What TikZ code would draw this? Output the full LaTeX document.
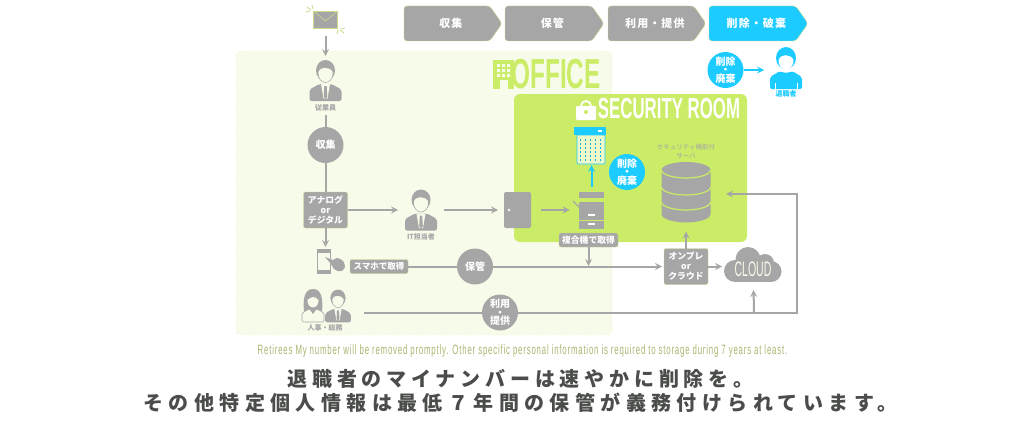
\documentclass[tikz,border=0pt]{standalone}
\usepackage{fontspec}
\setmainfont{Noto Sans CJK JP}
\newfontfamily\condfont[FakeStretch=0.58]{Liberation Sans}
\newfontfamily\notefont[FakeStretch=0.58, LetterSpace=6]{Liberation Sans}
\newfontfamily\cloudfont[FakeStretch=0.5]{Liberation Sans}
\newfontfamily\jpphase[LetterSpace=10]{Noto Sans CJK JP}
\newfontfamily\jpone[LetterSpace=24]{Noto Sans CJK JP}
\newfontfamily\jptwo[LetterSpace=27]{Noto Sans CJK JP}
\newcommand{\tightlines}{\lineskiplimit=-20pt\relax}
\usetikzlibrary{shapes.symbols}
\definecolor{grayicon}{HTML}{A6A6A6}
\definecolor{blueicon}{HTML}{1CCBFF}
\definecolor{roomgreen}{HTML}{CBEC67}
\definecolor{officebg}{HTML}{F7FBE9}
\definecolor{edgegreen}{HTML}{C6DC8C}
\definecolor{inkdark}{HTML}{4A4D4A}
\definecolor{noteolive}{HTML}{A9B56F}
\begin{document}
\begin{tikzpicture}[
    x=1pt, y=-1pt,
    phasebox/.style={signal, signal to=east, signal pointer angle=110, rounded corners=3pt, draw=edgegreen, fill=grayicon, minimum width=98pt, minimum height=35pt, inner sep=0pt, outer sep=0pt, anchor=west, text=white, font=\jpphase\fontsize{11}{13}\selectfont\bfseries, execute at begin node=\hspace*{8pt}},
    roundmark/.style={circle, fill=grayicon, minimum size=36pt, inner sep=0pt, outer sep=0pt, align=center, text=white, font=\fontsize{10}{8.4}\selectfont\bfseries\tightlines},
    tagbox/.style={rectangle, draw=edgegreen, fill=grayicon, rounded corners=2pt, inner sep=0pt, outer sep=0pt, align=center, text=white, font=\fontsize{8.8}{10}\selectfont\bfseries},
    iconbox/.style={rectangle, inner sep=0pt, outer sep=0pt},
    caption/.style={inner sep=0pt, text=grayicon, font=\fontsize{7}{8}\selectfont\bfseries},
    arrow/.style={->, line width=2pt, draw=grayicon, >=stealth},
    plainline/.style={line width=2pt, draw=grayicon},
    pics/manicon/.style 2 args={code={
        \fill[#1] (0,-10) ellipse (9.5 and 10.5);
        \fill[#2] (0,-7.5) ellipse (7.5 and 9.5);
        \fill[#1] (-8,-8) .. controls (-6,-14) and (4,-15) .. (8,-8) .. controls (9,-16) and (4,-20) .. (0,-20) .. controls (-5,-20) and (-9,-15) .. (-8,-8);
        \draw[#1, line width=.5pt] (0,-7.5) ellipse (7.5 and 9.5);
        \fill[#1, rounded corners=2pt] (-16,20.5) -- (-16,9) -- (-6,3.5) -- (6,3.5) -- (16,9) -- (16,20.5) -- cycle;
        \fill[#2] (-4.5,3.5) -- (4.5,3.5) -- (2,18) -- (-2,18) -- cycle;
        \fill[#1] (-1.2,5.5) -- (1.2,5.5) -- (1.8,16) -- (0,19) -- (-1.8,16) -- cycle;
    }},
    pics/womanicon/.style={code={
        \fill[grayicon] (-9,5) .. controls (-10,-6) and (-9,-17) .. (0,-17) .. controls (9,-17) and (10,-6) .. (9,5) -- cycle;
        \filldraw[draw=grayicon, fill=officebg, line width=.6pt, rounded corners=1.5pt] (-11,16) -- (-11,7) -- (-4,3) -- (4,3) -- (11,7) -- (11,16) -- cycle;
        \fill[officebg] (0,-5.5) ellipse (5.5 and 7);
        \fill[grayicon] (-5.5,-6) .. controls (-3,-9) and (2,-11) .. (5.5,-6) -- (5,-13) -- (-5,-13) -- cycle;
        \fill[grayicon] (-3.5,3) -- (0,8) -- (3.5,3) -- cycle;
    }},
    pics/retireeicon/.style={code={
        \fill[blueicon] (0,-10) ellipse (10 and 11);
        \fill[white] (0,-7.5) ellipse (7.5 and 9);
        \fill[blueicon] (-8,-8) .. controls (-6,-14) and (4,-15) .. (8,-8) .. controls (9,-16) and (4,-20) .. (0,-20) .. controls (-5,-20) and (-9,-15) .. (-8,-8);
        \fill[blueicon, rounded corners=2pt] (-16,21) -- (-16,9) -- (-6,3) -- (0,5.5) -- (6,3) -- (16,9) -- (16,21) -- cycle;
        \draw[white, line width=.7pt] (-11,15) -- (-11,21) (11,15) -- (11,21);
    }},
    pics/dbicon/.style={code={
        \fill[grayicon] (-24.5,-22) -- (-24.5,22) arc[start angle=180, end angle=0, x radius=24.5, y radius=8.5] -- (24.5,-22) arc[start angle=0, end angle=-180, x radius=24.5, y radius=8] -- cycle;
        \foreach \yy in {-22,-5,10}
            \draw[roomgreen, line width=1.2pt] (-24.5,\yy) arc[start angle=180, end angle=0, x radius=24.5, y radius=8];
    }}
]
\useasboundingbox (0,0) rectangle (1024,420);

% Rooms
\filldraw[draw=officebg!70!roomgreen, fill=officebg, rounded corners=5pt, dashed, line width=.4pt] (236,51) rectangle (612,335);
\fill[roomgreen, rounded corners=6pt] (514,94) rectangle (747,242);
\node[inner sep=0pt, text=roomgreen, font=\condfont\fontsize{42}{42}\selectfont\bfseries] (officetitle) at (556,74) {OFFICE};
\node[inner sep=0pt, text=white, font=\condfont\fontsize{29}{29}\selectfont\bfseries] (roomtitle) at (669,109) {SECURITY ROOM};
\fill[roomgreen] (493,60) rectangle (514,89);
\fill[officebg] foreach \xx in {497,502,507} { foreach \yy in {64,69,74} { (\xx,\yy) rectangle ++(3,3) } };
\fill[officebg] (499.5,80) rectangle (507.5,89);
\draw[white, line width=1.8pt] (581,106) arc[start angle=180, end angle=360, radius=5];
\fill[white, rounded corners=1pt] (576,106) rectangle (596,120);
\fill[roomgreen] (586,112) circle (2);

% Phases
\node[phasebox] (collectphase) at (404,23.5) {収集};
\node[phasebox, minimum width=99pt] (storephase) at (505,23.5) {保管};
\node[phasebox] (usephase) at (608,23.5) {利用・提供};
\node[phasebox, fill=blueicon, minimum width=99pt] (erasephase) at (709,23.5) {削除・破棄};

% Mail
\node[iconbox, draw=edgegreen, fill=grayicon, minimum width=24pt, minimum height=17pt] (mail) at (325.5,19.5) {};
\draw[edgegreen, line width=.6pt] (mail.north west) -- (325.5,21) -- (mail.north east);
\draw[edgegreen, line width=.8pt] (311,10) -- (307,7) (312,5) -- (313,9) (306,12) -- (310,11);
\draw[edgegreen, line width=.8pt] (340,30) -- (344,33) (337,34) -- (338,30) (345,28) -- (341,29);

% Staff column
\node[iconbox, minimum width=32pt, minimum height=41pt] (staff) at (325.5,80.5) {};
\pic at (staff) {manicon={grayicon}{officebg}};
\node[caption] (stafflabel) at (325.5,108) {従業員};
\node[roundmark] (collect) at (325.5,145) {収集};
\node[tagbox, minimum width=44pt, minimum height=36pt] (analog) at (325.5,210) {アナログ\\or\\デジタル};
\node[iconbox, minimum width=46pt, minimum height=42pt] (itstaff) at (421,210) {};
\pic at (itstaff) {manicon={grayicon}{officebg}};
\node[caption] (itlabel) at (421,237) {IT担当者};

% Door and copier
\node[iconbox, fill=grayicon, rounded corners=2pt, minimum width=27pt, minimum height=36pt] (door) at (517.5,210) {};
\fill[white] (509,210) circle (1.3);
\node[iconbox, minimum width=26pt, minimum height=38pt] (copier) at (591.5,210) {};
\fill[grayicon] (579,192) rectangle (604,198);
\fill[grayicon] (579,202) rectangle (604,220);
\fill[grayicon] (579,221) rectangle (604,229);
\draw[grayicon, line width=1.2pt] (573,201) -- (579,207);
\fill[white] (588,214) rectangle (595,216);
\fill[white] (588,223) rectangle (595,225);
\node[tagbox, minimum width=59pt, minimum height=14pt] (copierlabel) at (588.5,240) {複合機で取得};

% Shredder
\node[iconbox, minimum width=32pt, minimum height=38pt] (shredder) at (591.5,146) {};
\filldraw[draw=blueicon, fill=roomgreen!35!white, line width=.6pt, rounded corners=1pt] (577,135) rectangle (605,164);
\fill[blueicon] (574,127) rectangle (606,135);
\fill[white] (598,130) rectangle (602,132);
\foreach \xx in {580,585,590,595,600} {
    \foreach \yy in {139,143,147,151,155,159} {
        \fill[blueicon!85!black] (\xx,\yy) rectangle ++(1.2,2);
    }
}
\node[roundmark, fill=blueicon] (erasein) at (627,172) {削除\\・\\廃棄};

% Server
\node[iconbox, minimum width=49pt, minimum height=61pt] (server) at (686,192) {};
\pic at (server) {dbicon};
\node[inner sep=0pt, align=center, text=grayicon, font=\fontsize{6.5}{9}\selectfont] (serverlabel) at (686,151.5) {セキュリティ機能付\\サーバ};

% Phone and office circles
\node[iconbox, minimum width=14pt, minimum height=25pt] (phone) at (325.5,261.5) {};
\draw[grayicon, line width=.8pt] (317.5,249.5) rectangle (330.5,273.5);
\fill[grayicon] (317,249) rectangle (331,252.5);
\fill[grayicon] (317,270) rectangle (331,274);
\fill[grayicon] (325,257) -- (333,260) .. controls (337,255) and (345,260) .. (345,266) .. controls (345,270) and (341,272) .. (338,271) .. controls (334,270) and (332,267) .. (331,264) -- cycle;
\node[tagbox, minimum width=58pt, minimum height=14pt, font=\fontsize{8.5}{10}\selectfont\bfseries] (smartlabel) at (379,266.5) {スマホで取得};
\node[roundmark] (store) at (475,266.5) {保管};
\node[iconbox, minimum width=48pt, minimum height=33pt] (hrteam) at (327,305.5) {};
\pic at (313,306) {womanicon};
\pic[scale=.8] at (338,306) {manicon={grayicon}{officebg}};
\node[caption] (hrlabel) at (325,328) {人事・総務};
\node[roundmark] (useprovide) at (500,312.5) {利用\\・\\提供};

% On-premises and cloud
\node[tagbox, minimum width=44pt, minimum height=36pt] (onprem) at (686,266.5) {オンプレ\\or\\クラウド};
\node[iconbox, minimum width=58pt, minimum height=35pt] (cloudbox) at (753,264.5) {};
\fill[grayicon] (748,259.5) circle (12.5) (765,263) circle (9) (735,271) circle (11) (771,271.5) circle (10.5);
\fill[grayicon] (735,268) rectangle (771,282);
\node[inner sep=0pt, text=officebg, font=\cloudfont\fontsize{21}{21}\selectfont] (cloudtitle) at (753,269) {CLOUD};

% Retiree
\node[roundmark, fill=blueicon] (eraseout) at (725.5,70) {削除\\・\\廃棄};
\node[iconbox, minimum width=32pt, minimum height=42pt] (retiree) at (786,70) {};
\pic at (786,68) {retireeicon};
\node[caption, text=blueicon] (retireelabel) at (786,94) {退職者};

% Arrows
\coordinate (copierdrop) at (588.5,266);
\coordinate (cloudin) at (754,312.5);
\coordinate (turn) at (797,312.5);
\coordinate (serverin) at (726,194);
\draw[arrow, shorten <=8pt, shorten >=4pt] (mail) -- (staff);
\draw[plainline, shorten <=3pt] (stafflabel) -- (collect);
\draw[plainline] (collect) -- (analog);
\draw[arrow] (analog) -- (itstaff);
\draw[arrow, shorten >=2pt] (analog) -- (phone);
\draw[arrow, shorten >=6pt] (itstaff) -- (door);
\draw[arrow, shorten <=10pt, shorten >=9pt] (door) -- (copier);
\draw[arrow] (copierlabel) -- (copierdrop);
\draw[arrow, draw=blueicon, shorten <=4pt] (copier) -- (shredder);
\draw[plainline] (smartlabel) -- (store);
\draw[arrow, shorten >=2pt] (store) -- (onprem);
\draw[arrow, shorten >=9pt] (onprem) -- (server);
\draw[arrow, shorten >=2pt] (onprem) -- (cloudbox.west |- onprem);
\draw[plainline, shorten <=13pt] (hrteam.east |- useprovide) -- (useprovide);
\draw[arrow] (useprovide) -- (turn) |- (serverin);
\draw[arrow, shorten >=8pt] (cloudin) -- (cloudbox);
\draw[arrow, draw=blueicon, shorten >=6pt] (eraseout) -- (retiree);

% Notes
\node[inner sep=0pt, text=noteolive, font=\notefont\fontsize{13.5}{13.5}\selectfont] (englishnote) at (522.5,351) {Retirees My number will be removed promptly. Other specific personal information is required to storage during 7 years at least.};
\node[inner sep=0pt, text=inkdark, font=\jpone\fontsize{20}{20}\selectfont\bfseries] (noteone) at (520.5,379) {退職者のマイナンバーは速やかに削除を。};
\node[inner sep=0pt, text=inkdark, font=\jptwo\fontsize{20}{20}\selectfont\bfseries] (notetwo) at (520.5,403) {その他特定個人情報は最低７年間の保管が義務付けられています。};
\end{tikzpicture}
\end{document}
